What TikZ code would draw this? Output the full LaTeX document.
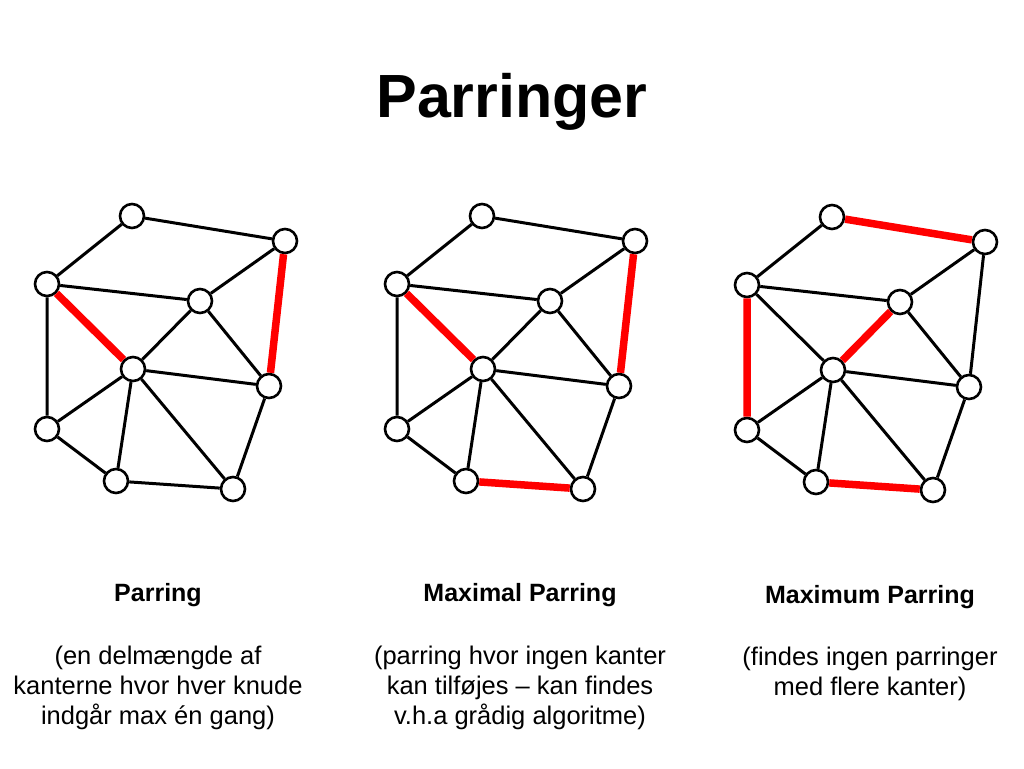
\documentclass[tikz,border=0pt]{standalone}
\usepackage{fontspec}
\setmainfont{Liberation Sans}

\begin{document}
\begin{tikzpicture}[x=1pt, y=-1pt, every node/.style={font={\fontsize{25.5}{30}\selectfont}},
    vertex/.style={circle, draw, fill=white, line width=2.6pt, minimum size=24pt, inner sep=0pt},
    kant/.style={line width=3pt},
    parret/.style={line width=7.5pt, red}]
    \useasboundingbox[fill=white] (0,0) rectangle (1024,768);

    \node[font={\fontsize{61}{70}\selectfont\bfseries}] (title) at (512,102) {Parringer};

    % three copies of the same graph
    \foreach \g/\dx/\dy in {1/0/0, 2/350/0, 3/700/1} {
        \node[vertex] (a\g) at (132+\dx,216+\dy) {};
        \node[vertex] (b\g) at (285+\dx,241+\dy) {};
        \node[vertex] (c\g) at (47+\dx,284+\dy) {};
        \node[vertex] (d\g) at (200+\dx,301+\dy) {};
        \node[vertex] (e\g) at (133+\dx,369+\dy) {};
        \node[vertex] (f\g) at (269+\dx,386+\dy) {};
        \node[vertex] (g\g) at (47+\dx,429+\dy) {};
        \node[vertex] (h\g) at (116+\dx,481+\dy) {};
        \node[vertex] (i\g) at (233+\dx,489+\dy) {};
        \draw[kant] (a\g) -- (c\g) (b\g) -- (d\g) (c\g) -- (d\g) (d\g) -- (f\g) (e\g) -- (f\g)
            (e\g) -- (g\g) (e\g) -- (h\g) (e\g) -- (i\g) (g\g) -- (h\g) (f\g) -- (i\g);
    }

    % Parring
    \draw[kant] (a1) -- (b1) (c1) -- (g1) (d1) -- (e1) (h1) -- (i1);
    \draw[parret] (b1) -- (f1) (c1) -- (e1);
    % Maximal parring
    \draw[kant] (a2) -- (b2) (c2) -- (g2) (d2) -- (e2);
    \draw[parret] (b2) -- (f2) (c2) -- (e2) (h2) -- (i2);
    % Maximum parring
    \draw[kant] (b3) -- (f3) (c3) -- (e3);
    \draw[parret] (a3) -- (b3) (c3) -- (g3) (d3) -- (e3) (h3) -- (i3);

    \node[font={\fontsize{25}{30}\selectfont\bfseries}] (navn1) at (158,595) {Parring};
    \node[font={\fontsize{25}{30}\selectfont\bfseries}] (navn2) at (520,595) {Maximal Parring};
    \node[font={\fontsize{25}{30}\selectfont\bfseries}] (navn3) at (870,597) {Maximum Parring};

    \node[align=center] (tekst1) at (158,688) {(en delmængde af\\kanterne hvor hver knude\\indgår max én gang)};
    \node[align=center] (tekst2) at (520,688) {(parring hvor ingen kanter\\kan tilføjes -- kan findes\\v.h.a grådig algoritme)};
    \node[align=center] (tekst3) at (870,674) {(findes ingen parringer\\med flere kanter)};
\end{tikzpicture}
\end{document}
